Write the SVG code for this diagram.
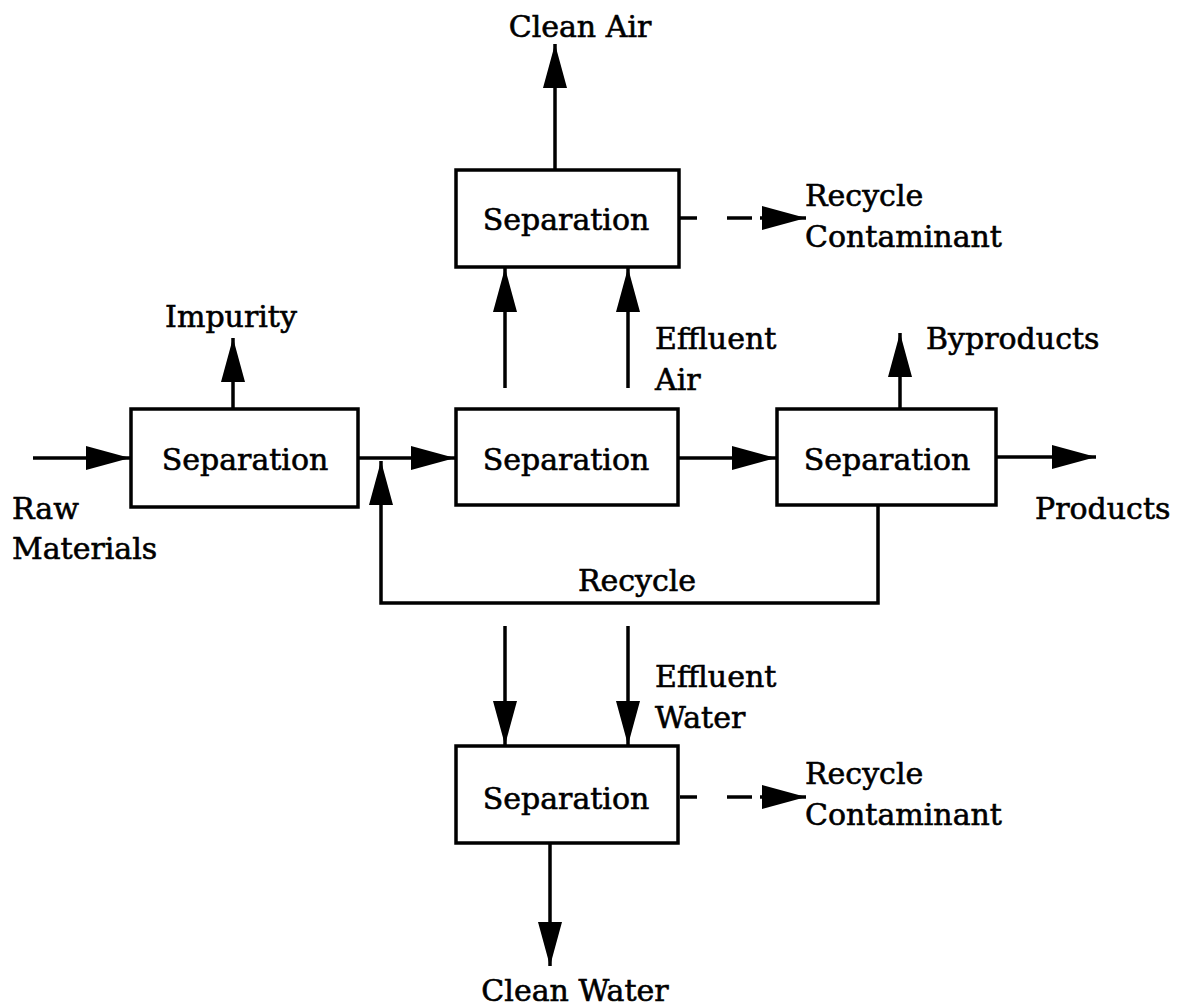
<svg xmlns="http://www.w3.org/2000/svg" width="1180" height="1007" viewBox="0 0 1180 1007">
<style>
  .box { fill: #fff; stroke: #000; stroke-width: 3.5; }
  .ln { fill: none; stroke: #000; stroke-width: 3.5; }
  .t { font-family: "DejaVu Serif", "Liberation Serif", serif; font-size: 30px; fill: #000; stroke: #000; stroke-width: 0.6; }
  .c { text-anchor: middle; }
</style>
<defs>
  <marker id="ah" markerUnits="userSpaceOnUse" markerWidth="46" markerHeight="26" refX="44" refY="13" orient="auto">
    <path d="M0,1 L44,13 L0,25 Z" fill="#000"/>
  </marker>
</defs>
<rect width="1180" height="1007" fill="#fff"/>
<g id="connectors">
  <line class="ln" x1="33" y1="458" x2="130" y2="458" marker-end="url(#ah)"/>
  <line class="ln" x1="233" y1="408" x2="233" y2="338" marker-end="url(#ah)"/>
  <line class="ln" x1="358" y1="458" x2="455" y2="458" marker-end="url(#ah)"/>
  <line class="ln" x1="678" y1="458" x2="776" y2="458" marker-end="url(#ah)"/>
  <line class="ln" x1="996" y1="457" x2="1096" y2="457" marker-end="url(#ah)"/>
  <line class="ln" x1="900" y1="408" x2="900" y2="333" marker-end="url(#ah)"/>
  <polyline class="ln" points="878,505 878,603 381,603 381,461" marker-end="url(#ah)"/>
  <line class="ln" x1="505" y1="388" x2="505" y2="268" marker-end="url(#ah)"/>
  <line class="ln" x1="628" y1="388" x2="628" y2="268" marker-end="url(#ah)"/>
  <line class="ln" x1="555" y1="170" x2="555" y2="44" marker-end="url(#ah)"/>
  <line class="ln" x1="680" y1="218" x2="697" y2="218"/>
  <line class="ln" x1="727" y1="218" x2="752" y2="218"/>
  <line class="ln" x1="760" y1="218" x2="806" y2="218" marker-end="url(#ah)"/>
  <line class="ln" x1="505" y1="626" x2="505" y2="745" marker-end="url(#ah)"/>
  <line class="ln" x1="628" y1="626" x2="628" y2="745" marker-end="url(#ah)"/>
  <line class="ln" x1="680" y1="797" x2="697" y2="797"/>
  <line class="ln" x1="727" y1="797" x2="752" y2="797"/>
  <line class="ln" x1="760" y1="797" x2="806" y2="797" marker-end="url(#ah)"/>
  <line class="ln" x1="550" y1="843" x2="550" y2="966" marker-end="url(#ah)"/>
</g>
<g id="sep-top">
  <rect class="box" x="456" y="170" width="223" height="97"/>
  <text class="t c" x="566" y="230">Separation</text>
</g>
<g id="sep-left">
  <rect class="box" x="131" y="409" width="227" height="98"/>
  <text class="t c" x="245" y="470">Separation</text>
</g>
<g id="sep-mid">
  <rect class="box" x="456" y="409" width="222" height="96"/>
  <text class="t c" x="566" y="470">Separation</text>
</g>
<g id="sep-right">
  <rect class="box" x="777" y="409" width="219" height="96"/>
  <text class="t c" x="887" y="470">Separation</text>
</g>
<g id="sep-bottom">
  <rect class="box" x="456" y="746" width="222" height="97"/>
  <text class="t c" x="566" y="809">Separation</text>
</g>
<g id="labels">
  <text class="t c" x="580" y="37">Clean Air</text>
  <text class="t" x="805" y="206">Recycle</text>
  <text class="t" x="805" y="247">Contaminant</text>
  <text class="t" x="655" y="349">Effluent</text>
  <text class="t" x="655" y="390">Air</text>
  <text class="t c" x="231" y="327">Impurity</text>
  <text class="t" x="926" y="349">Byproducts</text>
  <text class="t" x="12" y="519">Raw</text>
  <text class="t" x="12" y="559">Materials</text>
  <text class="t" x="1035" y="519">Products</text>
  <text class="t c" x="637" y="591">Recycle</text>
  <text class="t" x="655" y="687">Effluent</text>
  <text class="t" x="655" y="728">Water</text>
  <text class="t" x="805" y="784">Recycle</text>
  <text class="t" x="805" y="825">Contaminant</text>
  <text class="t c" x="575" y="1001">Clean Water</text>
</g>
</svg>
